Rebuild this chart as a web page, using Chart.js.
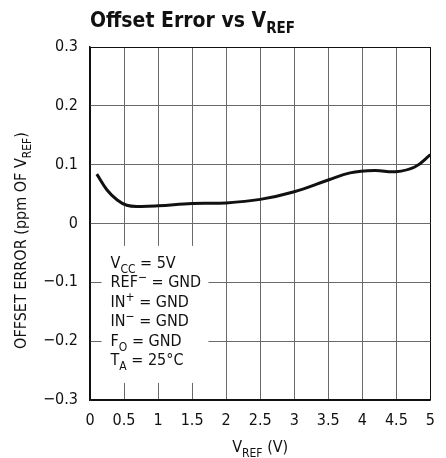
<!DOCTYPE html>
<html>
<head>
<meta charset="utf-8">
<script src="https://cdn.jsdelivr.net/npm/chart.js@4"></script>
<style>
  html, body { margin: 0; padding: 0; background: #fff; }
  #wrap { width: 446px; height: 458px; }
</style>
</head>
<body>
<div id="wrap"><canvas id="myChart" width="446" height="458"></canvas></div>
<script>
// values
const vref = [0.1, 0.25, 0.4, 0.54, 0.72, 1.0, 1.5, 2.0, 2.5, 3.0, 3.5, 3.82, 4.18, 4.49, 4.77, 5.0];
const offsetErr = [0.084, 0.057, 0.040, 0.031, 0.029, 0.030, 0.034, 0.035, 0.041, 0.054, 0.074, 0.086, 0.090, 0.088, 0.096, 0.117];
const xTicks = [0, 0.5, 1, 1.5, 2, 2.5, 3, 3.5, 4, 4.5, 5];
const yTicks = [-0.3, -0.2, -0.1, 0, 0.1, 0.2, 0.3];
const notes = [
  [["V", ""], ["CC", "sub"], [" = 5V", ""]],
  [["REF", ""], ["\u2212", "sup"], [" = GND", ""]],
  [["IN", ""], ["+", "sup"], [" = GND", ""]],
  [["IN", ""], ["\u2212", "sup"], [" = GND", ""]],
  [["F", ""], ["O", "sub"], [" = GND", ""]],
  [["T", ""], ["A", "sub"], [" = 25\u00b0C", ""]],
];

const FONT = '"Liberation Sans Narrow", "DejaVu Sans Condensed", sans-serif';

function fmt(v) {
  const s = String(Math.round(v * 10) / 10);
  return s.replace("-", "\u2212");
}

// draws text runs with sub/superscripts
function drawRuns(ctx, runs, x, y, size, weight, align) {
  const big = weight + " " + size + "px " + FONT;
  const small = weight + " " + Math.round(size * 0.72) + "px " + FONT;
  let total = 0;
  runs.forEach(r => {
    ctx.font = r[1] ? small : big;
    total += ctx.measureText(r[0]).width;
  });
  let cx = align === "center" ? x - total / 2 : x;
  ctx.textAlign = "left";
  ctx.textBaseline = "alphabetic";
  runs.forEach(r => {
    ctx.font = r[1] ? small : big;
    let dy = 0;
    if (r[1] === "sub") dy = size * 0.3;
    if (r[1] === "sup") dy = -size * 0.38;
    ctx.fillText(r[0], cx, y + dy);
    cx += ctx.measureText(r[0]).width;
  });
}

const extras = {
  id: "extras",
  beforeDatasetsDraw(chart) {
    const { ctx, scales } = chart;
    const x0 = scales.x.getPixelForValue(0.17), x1 = scales.x.getPixelForValue(1.74);
    const y0 = scales.y.getPixelForValue(-0.038), y1 = scales.y.getPixelForValue(-0.271);
    ctx.save();
    ctx.fillStyle = "#fff";
    ctx.fillRect(x0, y0, x1 - x0, y1 - y0);
    ctx.fillStyle = "#111";
    notes.forEach((runs, i) => {
      drawRuns(ctx, runs, x0 + 9, y0 + 22 + i * 19.5, 16, "normal", "left");
    });
    ctx.restore();
  },
  afterDraw(chart) {
    const { ctx, chartArea } = chart;
    ctx.save();
    ctx.fillStyle = "#111";
    drawRuns(ctx, [["Offset Error vs V", ""], ["REF", "sub"]], chartArea.left, 27, 21, "bold", "left");
    drawRuns(ctx, [["V", ""], ["REF", "sub"], [" (V)", ""]], (chartArea.left + chartArea.right) / 2, 452, 16, "normal", "center");
    ctx.translate(26, (chartArea.top + chartArea.bottom) / 2 + 17);
    ctx.rotate(-Math.PI / 2);
    drawRuns(ctx, [["OFFSET ERROR (ppm OF V", ""], ["REF", "sub"], [")", ""]], 0, 0, 16, "normal", "center");
    ctx.restore();
  }
};

const gridColor = (ctx) => (ctx.index === 0 || ctx.index === ctx.chart.scales[ctx.scale.id].ticks.length - 1) ? "#111" : "#6a6a6a";

const config = {
  type: "line",
  data: {
    datasets: [
      {
        label: "Offset Error",
        data: vref.map((v, i) => ({ x: v, y: offsetErr[i] })),
        borderColor: "#111",
        borderWidth: 3,
        pointRadius: 0,
        tension: 0.4,
        fill: false,
      },
    ],
  },
  options: {
    responsive: false,
    animation: false,
    layout: { padding: { left: 0, top: 47, right: 3, bottom: 0 } },
    plugins: {
      legend: { display: false },
      tooltip: { enabled: false },
      title: { display: false },
    },
    scales: {
      x: {
        type: "linear",
        min: 0,
        max: 5,
        afterBuildTicks: (s) => { s.ticks = xTicks.map(v => ({ value: v })); },
        afterFit: (s) => { s.height = 58; },
        ticks: {
          color: "#111",
          padding: 11,
          maxRotation: 0,
          autoSkip: false,
          font: { family: FONT, size: 16 },
          callback: (v) => fmt(v),
        },
        grid: { color: gridColor, lineWidth: 1, drawTicks: false },
        border: { display: true, color: "#111", width: 1.5 },
      },
      y: {
        type: "linear",
        min: -0.3,
        max: 0.3,
        afterBuildTicks: (s) => { s.ticks = yTicks.map(v => ({ value: v })); },
        afterFit: (s) => { s.width = 90; },
        ticks: {
          color: "#111",
          padding: 12,
          autoSkip: false,
          font: { family: FONT, size: 16 },
          callback: (v) => fmt(v),
        },
        grid: { color: gridColor, lineWidth: 1, drawTicks: false },
        border: { display: true, color: "#111", width: 1.5 },
      },
    },
  },
  plugins: [extras],
};

const myChart = new Chart(document.getElementById("myChart"), config);
</script>
</body>
</html>
